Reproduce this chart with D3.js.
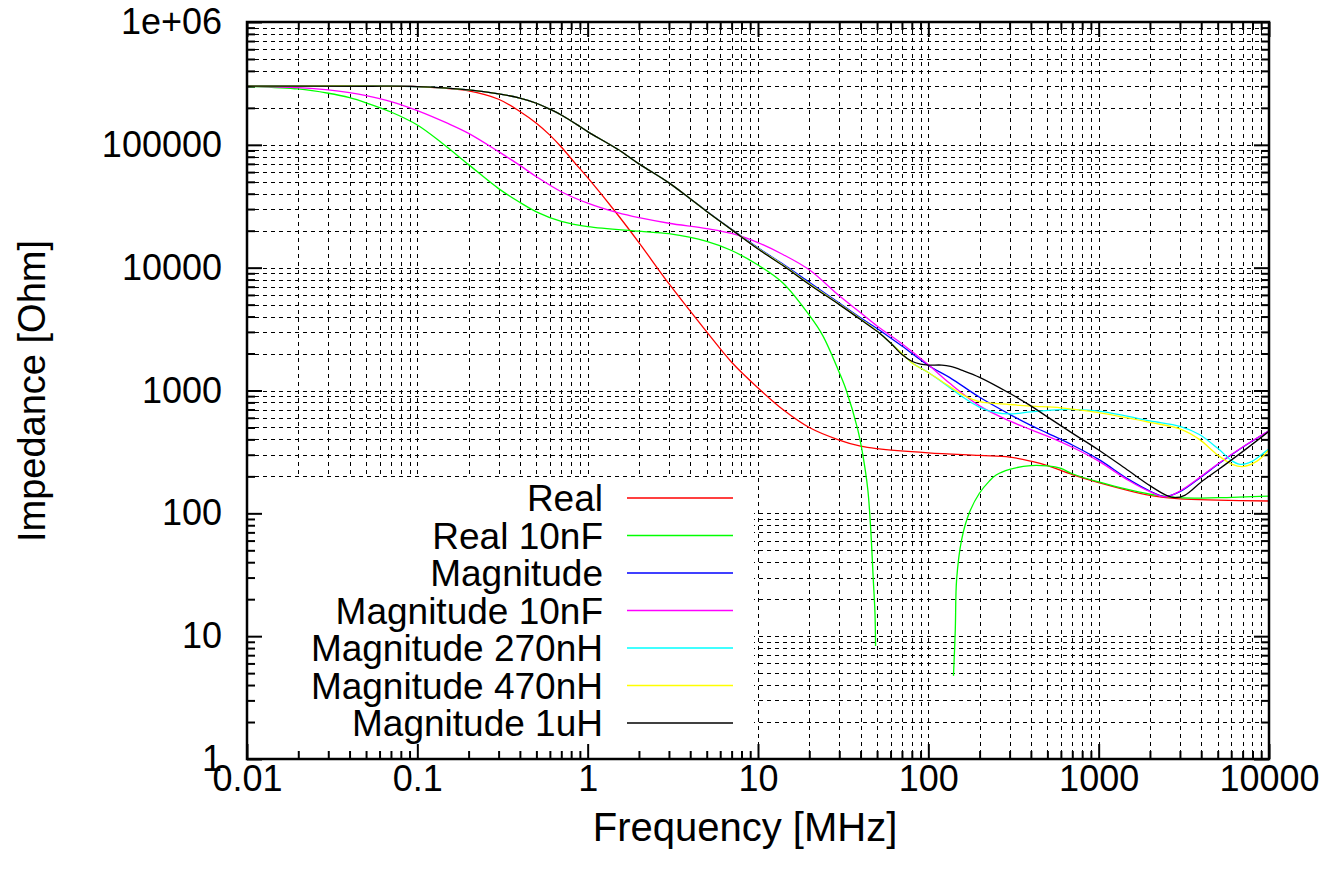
<!DOCTYPE html>
<html>
<head>
<meta charset="utf-8">
<script src="https://cdn.jsdelivr.net/npm/d3@7"></script>
<style>
  body { margin: 0; background: #fff; }
  svg text { font-family: "Liberation Sans", Arial, sans-serif; fill: #000; }
</style>
</head>
<body>
<div id="chart"></div>
<script>
/*** data : [frequency MHz, impedance Ohm] ***/
var realZ = [[0.01,3.0e5],[0.05,3.0e5],[0.1,2.98e5],[0.2,2.75e5],[0.3,2.35e5],[0.4,1.87e5],[0.5,1.5e5],
    [0.6,1.2e5],[0.7,9.6e4],[0.85,7.0e4],[1,5.4e4],[1.47,2.8e4],[2,1.6e4],[3,7.4e3],[5,3.0e3],[7,1.7e3],
    [10,1.05e3],[14,700],[20,500],[30,395],[40,352],[50,336],[100,311],[200,296],[300,287],[400,266],
    [500,245],[700,207],[1000,178],[2000,140],[3000,131],[5000,128],[10000,126]];

// real part with 10nF goes through zero twice -> gap
var real10nF = [[0.01,3.0e5],[0.02,2.85e5],[0.03,2.63e5],[0.04,2.42e5],[0.05,2.2e5],[0.07,1.85e5],[0.1,1.45e5],
    [0.14,1.03e5],[0.2,6.9e4],[0.3,4.4e4],[0.4,3.4e4],[0.5,2.85e4],[0.7,2.38e4],[1,2.16e4],[2,1.98e4],[3,1.89e4],
    [5,1.64e4],[7,1.38e4],[10,1.05e4],[14,7.5e3],[20,4.1e3],[24,2.8e3],[30,1.4e3],[33,1.0e3],[38.5,482],
    [41.2,302],[44.1,157],[45.9,74],[47.5,29],[48.6,15.6],[49,8.3],[95,null],[140.5,4.75],[144,11.4],
    [146.6,29],[157,61.5],[174,101],[199,145],[228,183],[250,205],[300,228],[400,245],[500,243],[600,232],
    [700,210],[1000,180],[2000,143],[3000,134],[5000,134],[10000,138]];

var magZ = [[0.01,3.0e5],[0.1,2.98e5],[0.2,2.8e5],[0.3,2.6e5],[0.4,2.4e5],[0.5,2.18e5],[0.6,1.95e5],[0.7,1.75e5],
    [0.9,1.41e5],[1,1.28e5],[1.5,9.2e4],[2,7.0e4],[3,4.9e4],[4,3.64e4],[5,2.88e4],[7,2.05e4],[10,1.45e4],
    [14,1.07e4],[20,7.6e3],[30,5.15e3],[40,3.9e3],[50,3.2e3],[70,2.3e3],[100,1.6e3],[133,1.28e3],[200,880],
    [300,640],[400,520],[500,450],[700,360],[1000,275],[1500,189],[2000,152],[2450,137],[3000,150],[4000,198],
    [5000,250],[7000,345],[10000,470]];

var mag10nF = [[0.01,3.0e5],[0.02,2.92e5],[0.03,2.8e5],[0.04,2.66e5],[0.05,2.52e5],[0.07,2.25e5],[0.1,1.9e5],
    [0.15,1.5e5],[0.2,1.24e5],[0.3,8.8e4],[0.4,6.8e4],[0.5,5.5e4],[0.7,4.15e4],[1,3.35e4],[1.5,2.8e4],[2,2.55e4],
    [3,2.3e4],[5,2.08e4],[7,1.9e4],[10,1.6e4],[14,1.28e4],[20,9.6e3],[30,5.9e3],[40,4.3e3],[50,3.35e3],
    [70,2.4e3],[100,1.62e3],[133,1.15e3],[200,750],[300,565],[400,480],[500,425],[700,345],[1000,266],
    [1500,185],[2000,150],[2450,136],[3000,152],[4000,200],[5000,252],[7000,347],[10000,470]];

var mag270nH = [[0.01,3.0e5],[0.1,2.98e5],[0.2,2.8e5],[0.3,2.6e5],[0.4,2.4e5],[0.5,2.18e5],[0.6,1.95e5],[0.7,1.75e5],
    [0.9,1.41e5],[1,1.28e5],[1.5,9.2e4],[2,7.0e4],[3,4.9e4],[4,3.64e4],[5,2.87e4],[7,2.04e4],[10,1.43e4],
    [14,1.05e4],[20,7.4e3],[30,5.05e3],[40,3.82e3],[50,3.05e3],[70,2.0e3],[80,1.68e3],[100,1.4e3],[133,1.06e3],
    [160,880],[200,730],[250,660],[300,645],[400,670],[600,700],[1000,680],[2000,565],[3000,510],[3900,438],
    [5000,338],[6100,266],[6800,250],[8000,266],[9600,321],[10000,335]];

var mag470nH = [[0.01,3.0e5],[0.1,2.98e5],[0.2,2.8e5],[0.3,2.6e5],[0.4,2.4e5],[0.5,2.18e5],[0.6,1.95e5],[0.7,1.75e5],
    [0.9,1.41e5],[1,1.28e5],[1.5,9.2e4],[2,7.0e4],[3,4.9e4],[4,3.64e4],[5,2.87e4],[7,2.04e4],[10,1.43e4],
    [14,1.05e4],[20,7.4e3],[30,5.05e3],[40,3.82e3],[50,3.05e3],[70,2.0e3],[80,1.68e3],[100,1.4e3],[133,1.08e3],
    [160,920],[200,810],[300,769],[400,746],[600,723],[1000,660],[2000,550],[3000,487],[3900,400],[5000,298],
    [6100,250],[7000,240],[8500,266],[10000,330]];

var mag1uH = [[0.01,3.0e5],[0.05,3.0e5],[0.1,2.98e5],[0.2,2.8e5],[0.3,2.6e5],[0.4,2.4e5],[0.5,2.18e5],[0.6,1.95e5],
    [0.7,1.75e5],[0.9,1.41e5],[1,1.28e5],[1.5,9.2e4],[2,7.0e4],[3,4.9e4],[4,3.64e4],[5,2.87e4],[7,2.04e4],
    [10,1.42e4],[14,1.04e4],[20,7.3e3],[30,5.0e3],[40,3.78e3],[50,3.03e3],[60,2.44e3],[70,1.96e3],[80,1.73e3],
    [90,1.64e3],[100,1.61e3],[120,1.61e3],[135,1.57e3],[160,1.45e3],[200,1.28e3],[300,950],[400,750],[500,610],
    [700,450],[1000,328],[1500,222],[2000,168],[2500,140],[2800,134],[3200,140],[4000,180],[5000,225],
    [7000,318],[10000,465]];

var seriesNames = ["Real", "Real 10nF", "Magnitude", "Magnitude 10nF", "Magnitude 270nH", "Magnitude 470nH", "Magnitude 1uH"];
var seriesColors = ["#ff0000", "#00ff00", "#0000ff", "#ff00ff", "#00ffff", "#ffff00", "#000000"];
var seriesData = [realZ, real10nF, magZ, mag10nF, mag270nH, mag470nH, mag1uH];

var xMajor = [0.01, 0.1, 1, 10, 100, 1000, 10000];
var xTickLabels = ["0.01", "0.1", "1", "10", "100", "1000", "10000"];
var yMajor = [1, 10, 100, 1000, 10000, 100000, 1000000];
var yTickLabels = ["1", "10", "100", "1000", "10000", "100000", "1e+06"];

/*** layout ***/
// NB: "top" is taken by window.top, so plot edges get a prefix
var plotL = 247, plotR = 1269, plotT = 22, plotB = 759;
var tickFont = 36, keyFont = 37;

var svg = d3.select("#chart").append("svg")
    .attr("width", 1344)
    .attr("height", 875);

var x = d3.scaleLog().domain([0.01, 10000]).range([plotL, plotR]);
var y = d3.scaleLog().domain([1, 1e6]).range([plotB, plotT]);

// log ticks give every 1..9 multiple per decade
var xAll = x.ticks();
var yAll = y.ticks();
var xMinor = xAll.filter(function(d){ return xMajor.indexOf(d) < 0; });
var yMinor = yAll.filter(function(d){ return yMajor.indexOf(d) < 0; });

/*** dashed grid ***/
var grid = svg.append("g")
    .attr("stroke", "#000")
    .attr("stroke-width", 1)
    .attr("stroke-dasharray", "4,4")
    .attr("shape-rendering", "crispEdges");

grid.selectAll("line.vgrid")
    .data(xAll.filter(function(d){ return d > 0.01 && d < 10000; }))
    .enter().append("line")
    .attr("class", "vgrid")
    .attr("x1", function(d){ return Math.round(x(d)) + 0.5; })
    .attr("x2", function(d){ return Math.round(x(d)) + 0.5; })
    .attr("y1", plotT)
    .attr("y2", plotB);

grid.selectAll("line.hgrid")
    .data(yAll.filter(function(d){ return d > 1 && d < 1e6; }))
    .enter().append("line")
    .attr("class", "hgrid")
    .attr("x1", plotL)
    .attr("x2", plotR)
    .attr("y1", function(d){ return Math.round(y(d)) + 0.5; })
    .attr("y2", function(d){ return Math.round(y(d)) + 0.5; });

// opaque key box hides the grid behind it
var keyLeft = plotL + 1, keyRight = 754, keyTop = 478;
svg.append("rect")
    .attr("x", keyLeft)
    .attr("y", keyTop)
    .attr("width", keyRight - keyLeft)
    .attr("height", plotB - keyTop)
    .attr("fill", "#fff");

/*** ticks (inward, mirrored on all sides) ***/
function styleAxis(g){
    g.select(".domain").remove();
    g.attr("font-family", null).attr("font-size", null);
    g.selectAll(".tick line").attr("stroke", "#000").attr("stroke-width", 2);
    g.selectAll(".tick text").style("font-size", tickFont + "px").attr("fill", "#000");
}

svg.append("g").attr("transform", "translate(0," + plotB + ")")
    .call(d3.axisBottom(x).tickValues(xMinor).tickSizeInner(-8).tickSizeOuter(0).tickFormat(""))
    .call(styleAxis);
svg.append("g").attr("transform", "translate(0," + plotB + ")")
    .call(d3.axisBottom(x).tickValues(xMajor).tickSizeInner(-15).tickSizeOuter(0).tickPadding(6)
        .tickFormat(function(d, i){ return xTickLabels[i]; }))
    .call(styleAxis);
svg.append("g").attr("transform", "translate(0," + plotT + ")")
    .call(d3.axisTop(x).tickValues(xMinor).tickSizeInner(-8).tickSizeOuter(0).tickFormat(""))
    .call(styleAxis);
svg.append("g").attr("transform", "translate(0," + plotT + ")")
    .call(d3.axisTop(x).tickValues(xMajor).tickSizeInner(-15).tickSizeOuter(0).tickFormat(""))
    .call(styleAxis);

svg.append("g").attr("transform", "translate(" + plotL + ",0)")
    .call(d3.axisLeft(y).tickValues(yMinor).tickSizeInner(-8).tickSizeOuter(0).tickFormat(""))
    .call(styleAxis);
svg.append("g").attr("transform", "translate(" + plotL + ",0)")
    .call(d3.axisLeft(y).tickValues(yMajor).tickSizeInner(-15).tickSizeOuter(0).tickPadding(25)
        .tickFormat(function(d, i){ return yTickLabels[i]; }))
    .call(styleAxis);
svg.append("g").attr("transform", "translate(" + plotR + ",0)")
    .call(d3.axisRight(y).tickValues(yMinor).tickSizeInner(-8).tickSizeOuter(0).tickFormat(""))
    .call(styleAxis);
svg.append("g").attr("transform", "translate(" + plotR + ",0)")
    .call(d3.axisRight(y).tickValues(yMajor).tickSizeInner(-15).tickSizeOuter(0).tickFormat(""))
    .call(styleAxis);

/*** curves ***/
svg.append("clipPath").attr("id", "plotclip")
    .append("rect")
    .attr("x", plotL).attr("y", plotT)
    .attr("width", plotR - plotL).attr("height", plotB - plotT);

var line = d3.line()
    .defined(function(d){ return d[1] != null; })
    .x(function(d){ return x(d[0]); })
    .y(function(d){ return y(d[1]); })
    .curve(d3.curveCatmullRom.alpha(0.5));

svg.append("g").attr("clip-path", "url(#plotclip)")
    .selectAll("path")
    .data(seriesData)
    .enter().append("path")
    .attr("d", line)
    .attr("fill", "none")
    .attr("stroke", function(d, i){ return seriesColors[i]; })
    .attr("stroke-width", 1.3);

/*** border ***/
svg.append("rect")
    .attr("x", plotL).attr("y", plotT)
    .attr("width", plotR - plotL).attr("height", plotB - plotT)
    .attr("fill", "none")
    .attr("stroke", "#000")
    .attr("stroke-width", 2.5);

/*** key ***/
var keyRow0 = 498, keyStep = 37.5, keyTextX = 603, keyLineX1 = 627, keyLineX2 = 733;
var key = svg.append("g");
seriesNames.forEach(function(name, i){
    var ry = keyRow0 + i * keyStep;
    key.append("text")
        .attr("x", keyTextX)
        .attr("y", ry + 13)
        .attr("text-anchor", "end")
        .style("font-size", keyFont + "px")
        .text(name);
    key.append("line")
        .attr("x1", keyLineX1).attr("x2", keyLineX2)
        .attr("y1", ry).attr("y2", ry)
        .attr("stroke", seriesColors[i])
        .attr("stroke-width", 1.3);
});

/*** axis titles ***/
svg.append("text")
    .attr("x", 745)
    .attr("y", 841)
    .attr("text-anchor", "middle")
    .style("font-size", "40px")
    .text("Frequency [MHz]");

svg.append("text")
    .attr("transform", "translate(45,391) rotate(-90)")
    .attr("text-anchor", "middle")
    .style("font-size", "38px")
    .text("Impedance [Ohm]");
</script>
</body>
</html>
